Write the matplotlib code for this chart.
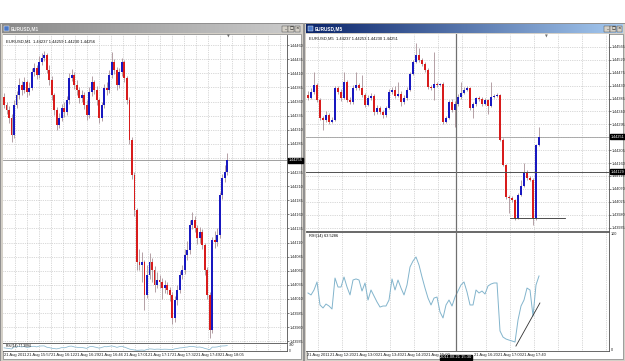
import numpy as np
import matplotlib
matplotlib.use("Agg")
import matplotlib.pyplot as plt
from matplotlib.patches import Rectangle
from matplotlib.colors import LinearSegmentedColormap
import matplotlib.transforms as mtransforms

# ------------------------------------------------------------------ data
# EURUSD M1 (left window), prices in points (1e-5)
left_open = [144368, 144354, 144345, 144331, 144300, 144354, 144371, 144389, 144380, 144394,
             144377, 144384, 144412, 144419, 144407, 144430, 144437, 144442, 144416, 144398,
             144371, 144345, 144318, 144331, 144348, 144341, 144362, 144401, 144407, 144389,
             144380, 144366, 144371, 144354, 144336, 144377, 144394, 144380, 144362, 144331,
             144354, 144384, 144380, 144407, 144430, 144416, 144389, 144412, 144430, 144401,
             144362, 144292, 144230, 144167, 144075, 144070, 144075, 144017, 144052, 144075,
             144061, 144034, 144043, 144040, 144029, 144034, 144026, 144017, 143976, 144008,
             144026, 144052, 144061, 144088, 144096, 144141, 144150, 144135, 144118, 144128,
             144105, 144061, 144017, 143955, 144114, 144111, 144123, 144194, 144224, 144235]
left_close = [144354, 144345, 144331, 144300, 144354, 144371, 144389, 144380, 144394, 144377,
              144384, 144412, 144419, 144407, 144430, 144437, 144442, 144416, 144398, 144371,
              144345, 144318, 144331, 144348, 144341, 144362, 144401, 144407, 144389, 144380,
              144366, 144371, 144354, 144336, 144377, 144394, 144380, 144362, 144331, 144354,
              144384, 144380, 144407, 144430, 144416, 144389, 144412, 144430, 144401, 144362,
              144292, 144230, 144167, 144075, 144070, 144075, 144017, 144052, 144075, 144061,
              144034, 144043, 144040, 144029, 144034, 144026, 144017, 143976, 144008, 144026,
              144052, 144061, 144088, 144096, 144141, 144150, 144135, 144118, 144128, 144105,
              144061, 144017, 143955, 144114, 144111, 144123, 144194, 144224, 144235, 144256]
left_high = [144376, 144360, 144352, 144338, 144362, 144378, 144401, 144396, 144404, 144399,
             144395, 144420, 144428, 144424, 144441, 144446, 144449, 144446, 144424, 144405,
             144376, 144350, 144340, 144356, 144360, 144370, 144410, 144418, 144412, 144398,
             144386, 144380, 144377, 144362, 144386, 144405, 144398, 144388, 144366, 144360,
             144392, 144395, 144416, 144447, 144436, 144422, 144420, 144438, 144434, 144406,
             144368, 144298, 144236, 144172, 144098, 144094, 144080, 144070, 144092, 144082,
             144068, 144058, 144052, 144048, 144044, 144040, 144032, 144022, 144016, 144034,
             144060, 144070, 144098, 144112, 144150, 144164, 144158, 144142, 144138, 144134,
             144110, 144066, 144022, 144120, 144130, 144135, 144200, 144232, 144248, 144268]
left_low = [144348, 144338, 144322, 144288, 144296, 144348, 144365, 144372, 144376, 144368,
            144372, 144380, 144406, 144400, 144402, 144425, 144432, 144410, 144390, 144362,
            144336, 144309, 144314, 144326, 144332, 144336, 144356, 144396, 144382, 144372,
            144358, 144360, 144346, 144328, 144330, 144370, 144374, 144354, 144322, 144326,
            144348, 144372, 144376, 144402, 144408, 144380, 144384, 144406, 144394, 144355,
            144285, 144222, 144158, 144062, 144062, 144040, 143990, 144012, 144046, 144040,
            144022, 144030, 144030, 144010, 144020, 144018, 144006, 143966, 143970, 144000,
            144020, 144046, 144055, 144080, 144090, 144134, 144128, 144108, 144110, 144098,
            144052, 144010, 143940, 143950, 144100, 144104, 144118, 144188, 144218, 144230]
left_rsi = [45, 40, 36, 28, 55, 60, 65, 58, 63, 52, 55, 66, 68, 58, 70, 72, 73, 55, 48, 40,
            34, 30, 38, 48, 45, 55, 68, 70, 58, 54, 48, 50, 44, 38, 60, 66, 58, 50, 40, 52,
            62, 60, 68, 72, 64, 52, 62, 68, 55, 42, 28, 20, 15, 10, 12, 14, 10, 22, 30, 28,
            24, 27, 26, 24, 26, 25, 23, 18, 30, 36, 44, 46, 54, 56, 64, 66, 60, 54, 57, 50,
            38, 28, 18, 56, 55, 58, 68, 72, 73, 77]
left_price_ticks = [1.44460, 1.44435, 1.44410, 1.44385, 1.44360, 1.44335, 1.44310, 1.44285,
                    1.44260, 1.44235, 1.44210, 1.44185, 1.44160, 1.44135, 1.44110, 1.44085,
                    1.44060, 1.44035, 1.44010, 1.43985, 1.43960, 1.43935]
left_time_labels = ["21 Aug 2011", "21 Aug 15:57", "21 Aug 16:12", "21 Aug 16:29", "21 Aug 16:46",
                    "21 Aug 17:01", "21 Aug 17:17", "21 Aug 17:32", "21 Aug 17:49", "21 Aug 18:05"]
left_bid = 1.44256

# EURUSD M5 (right window), prices in points (1e-5)
right_open = [144398, 144387, 144408, 144432, 144380, 144317, 144310, 144328, 144303, 144310,
              144422, 144408, 144387, 144443, 144380, 144373, 144422, 144432, 144422, 144398,
              144363, 144387, 144394, 144338, 144352, 144338, 144328, 144352, 144408, 144415,
              144394, 144401, 144373, 144387, 144415, 144471, 144513, 144537, 144520, 144506,
              144485, 144425, 144422, 144436, 144432, 144436, 144303, 144317, 144373, 144345,
              144366, 144391, 144405, 144415, 144422, 144352, 144366, 144387, 144384, 144366,
              144380, 144359, 144391, 144394, 144398, 144241, 144153, 144042, 144038, 144031,
              143969, 144049, 144080, 144129, 144108, 144101, 143969, 144223]
right_close = [144387, 144408, 144432, 144380, 144317, 144310, 144328, 144303, 144310, 144422,
               144408, 144387, 144443, 144380, 144373, 144422, 144432, 144422, 144398, 144363,
               144387, 144394, 144338, 144352, 144338, 144328, 144352, 144408, 144415, 144394,
               144401, 144373, 144387, 144415, 144471, 144513, 144537, 144520, 144506, 144485,
               144425, 144422, 144436, 144432, 144436, 144303, 144317, 144373, 144345, 144366,
               144391, 144405, 144415, 144422, 144352, 144366, 144387, 144384, 144366, 144380,
               144359, 144391, 144394, 144398, 144241, 144153, 144042, 144038, 144031, 143969,
               144049, 144080, 144129, 144108, 144101, 143969, 144223, 144251]
right_high = [144410, 144420, 144477, 144440, 144388, 144325, 144340, 144334, 144320, 144430,
              144428, 144418, 144478, 144450, 144392, 144432, 144478, 144438, 144467, 144404,
              144396, 144405, 144400, 144362, 144358, 144345, 144360, 144418, 144425, 144430,
              144443, 144410, 144396, 144424, 144478, 144520, 144579, 144562, 144528, 144512,
              144490, 144432, 144548, 144442, 144440, 144442, 144325, 144380, 144384, 144375,
              144400, 144443, 144424, 144430, 144426, 144374, 144392, 144395, 144390, 144388,
              144384, 144443, 144400, 144404, 144402, 144246, 144158, 144048, 144045, 144036,
              144055, 144101, 144160, 144135, 144115, 144108, 144228, 144286]
right_low = [144380, 144382, 144402, 144372, 144310, 144275, 144304, 144296, 144298, 144305,
             144400, 144378, 144382, 144372, 144365, 144366, 144415, 144414, 144390, 144355,
             144358, 144380, 144328, 144332, 144330, 144318, 144322, 144348, 144400, 144388,
             144390, 144359, 144366, 144380, 144410, 144466, 144508, 144514, 144500, 144478,
             144418, 144415, 144380, 144426, 144428, 144296, 144298, 144312, 144338, 144285,
             144360, 144385, 144400, 144410, 144345, 144317, 144360, 144378, 144360, 144362,
             144331, 144355, 144386, 144390, 144236, 144148, 144036, 143986, 144024, 143962,
             143964, 144044, 144076, 144102, 144096, 143944, 143962, 144218]
right_rsi = [48.7, 47.0, 51.3, 58.3, 38.3, 35.7, 39.1, 37.4, 34.8, 61.7,
             53.9, 53.9, 62.6, 53.9, 47.0, 60.0, 60.9, 60.0, 50.4, 57.4,
             42.6, 51.3, 46.1, 40.9, 36.5, 37.4, 37.4, 42.6, 60.9, 51.3,
             60.0, 53.0, 47.0, 55.7, 71.3, 76.5, 80.0, 73.0, 62.6, 53.0,
             44.3, 38.3, 44.3, 45.2, 32.2, 27.0, 38.3, 42.6, 37.4, 45.2,
             50.4, 55.7, 58.3, 49.6, 38.3, 38.3, 51.3, 48.7, 50.4, 47.8,
             54.8, 56.5, 57.4, 57.4, 15.7, 10.4, 8.7, 7.8, 7.0, 6.1,
             25.2, 37.4, 42.6, 53.0, 51.3, 28.7, 55.7, 63.5]
right_price_ticks = [1.44565, 1.44520, 1.44475, 1.44430, 1.44385, 1.44340, 1.44295, 1.44250,
                     1.44205, 1.44160, 1.44115, 1.44070, 1.44025, 1.43980, 1.43935]
right_time_labels = ["21 Aug 2011", "21 Aug 12:20", "21 Aug 13:00", "21 Aug 13:40", "21 Aug 14:20",
                     "21 Aug 15:00", "", "21 Aug 16:20", "21 Aug 17:00", "21 Aug 17:40"]
right_bid = 1.44251
cross_bar, cross_price, cross_time = 49.3, 1.44129, "2011.08.21 15:30"
price_trend_x, price_trend_y = [67.3, 85.7], [1.43969, 1.43969]
rsi_trend_x, rsi_trend_y = [69.3, 77.3], [2.6, 40.0]

# ------------------------------------------------------------------ figure
W, H = 625, 361
fig = plt.figure(figsize=(W / 100, H / 100), dpi=100)
fig.patch.set_facecolor("white")
plt.rcParams["font.family"] = ["Liberation Sans Narrow", "Liberation Sans", "DejaVu Sans"]


def rect(x0, y0, x1, y1):
    return [x0 / W, 1 - y1 / H, (x1 - x0) / W, (y1 - y0) / H]


UP, DN, WICK = "#1818c0", "#d81c1c", "#a89096"
GRID = dict(color="#b4b4b4", lw=0.5, ls=(0, (1, 1.6)))
FS = 2.7

# background chrome
bg = fig.add_axes([0, 0, 1, 1], zorder=0)
bg.set_xlim(0, W); bg.set_ylim(H, 0); bg.axis("off")


def gradient(x0, x1, y0, y1, c0, c1):
    cmap = LinearSegmentedColormap.from_list("g", [c0, c1])
    bg.imshow(np.linspace(0, 1, 256).reshape(1, -1), extent=(x0, x1, y1, y0),
              cmap=cmap, aspect="auto", zorder=2)


def window(x0, x1, title, active):
    bg.add_patch(Rectangle((x0, 23), x1 - x0, H - 23, fc="#d4d0c8", ec="#808080", lw=0.6, zorder=1))
    if active:
        gradient(x0 + 2, x1 - 2, 24.5, 33, "#0a246a", "#a6caf0")
        tc = "white"
    else:
        gradient(x0 + 2, x1 - 2, 24.5, 33, "#8a8a8a", "#cccccc")
        tc = "#eeeeee"
    bg.add_patch(Rectangle((x0 + 3.5, 26), 5, 5, fc="#4a78c8", ec="white", lw=0.3, zorder=3))
    bg.text(x0 + 11, 29, title, fontsize=3.4, color=tc, fontweight="bold", va="center", zorder=3)
    for k, g in enumerate(["_", "□", "×"]):
        bx = x1 - 21 + k * 6.3
        bg.add_patch(Rectangle((bx, 25.5), 5.6, 6, fc="#d4d0c8", ec="#404040", lw=0.3, zorder=3))
        bg.text(bx + 2.8, 28.6, g, fontsize=3.0, ha="center", va="center", zorder=4,
                family=["DejaVu Sans"])
    bg.add_patch(Rectangle((x0 + 2.5, 33.5), x1 - x0 - 5, H - 36, fc="white", ec="#808080", lw=0.5, zorder=2))


window(0, 303, "EURUSD,M1", False)
window(304, 625, "EURUSD,M5", True)
bg.set_xlim(0, W); bg.set_ylim(H, 0)


def candles(ax, o, h, l, c, width):
    o, h, l, c = (np.asarray(a) / 1e5 for a in (o, h, l, c))
    x = np.arange(len(c))
    ax.vlines(x, l, h, color=WICK, lw=0.6, zorder=3)
    up = c >= o
    bot = np.minimum(o, c)
    hgt = np.maximum(np.abs(c - o), 0.000015)
    ax.bar(x[up], hgt[up], width, bot[up], color=UP, lw=0, zorder=4)
    ax.bar(x[~up], hgt[~up], width, bot[~up], color=DN, lw=0, zorder=4)


def style(ax):
    ax.set_facecolor("white")
    for s in ax.spines.values():
        s.set_color("#505050"); s.set_linewidth(0.6)
    ax.spines["left"].set_visible(False)
    ax.spines["top"].set_visible(False)
    ax.tick_params(axis="x", length=0, labelsize=FS + 0.3, pad=1.2, colors="#202020")
    ax.yaxis.tick_right()
    ax.tick_params(axis="y", length=1.2, width=0.4, labelsize=FS, pad=0.7, colors="#202020")


def price_box(ax, y, txt):
    tr = mtransforms.blended_transform_factory(ax.transAxes, ax.transData)
    ax.text(1.006, y, txt, transform=tr, fontsize=FS, color="white", va="center", ha="left",
            bbox=dict(boxstyle="square,pad=0.12", fc="black", ec="black"), zorder=10, clip_on=False)


def tick_text(ticks, skip):
    return ["" if abs(v - skip) < 0.0001 else "%.5f" % v for v in ticks]


# ---------------- left window
axL = fig.add_axes(rect(3, 35, 287, 343), zorder=2)
style(axL)
axL.set_xlim(-0.4, 112.8); axL.set_ylim(1.43932, 1.44478)
axL.set_yticks(left_price_ticks)
axL.set_yticklabels(tick_text(left_price_ticks, left_bid))
axL.set_xticks([])
for k in range(23):
    axL.axvline(4.4 + 4.8 * k, **GRID, zorder=1)
for v in left_price_ticks:
    axL.axhline(v, **GRID, zorder=1)
candles(axL, left_open, left_high, left_low, left_close, 0.75)
axL.axhline(left_bid, color="#909090", lw=0.6, zorder=2)
price_box(axL, left_bid, "%.5f" % left_bid)
axL.text(0.012, 0.985, "EURUSD,M1  1.44237 1.44259 1.44230 1.44256", transform=axL.transAxes,
         fontsize=3.0, va="top", color="#101010")
axL.text(89.5, 1.44478, "▼", fontsize=2.6, color="#707070", ha="center", va="top",
         clip_on=False, family=["DejaVu Sans"])

axLi = fig.add_axes(rect(3, 344, 287, 351), zorder=2)
style(axLi)
axLi.set_xlim(-0.4, 112.8); axLi.set_ylim(0, 100)
axLi.plot(np.arange(len(left_rsi)), left_rsi, color="#7fb2cc", lw=0.5)
axLi.set_yticks([0, 100]); axLi.set_yticklabels(["0", "100"], fontsize=2.3)
axLi.tick_params(axis="y", length=0, pad=1)
axLi.set_xticks([4.4 + 9.6 * k for k in range(len(left_time_labels))])
axLi.set_xticklabels(left_time_labels)
axLi.tick_params(axis="x", pad=1.6)
for k in range(23):
    axLi.axvline(4.4 + 4.8 * k, **GRID, zorder=1)
axLi.text(0.012, 0.95, "RSI(14) 77.3094", transform=axLi.transAxes, fontsize=2.4, va="top")

# ---------------- right window
axR = fig.add_axes(rect(306, 34, 609, 231), zorder=2)
style(axR)
axR.set_xlim(-0.67, 100.33); axR.set_ylim(1.43923, 1.44610)
axR.set_yticks(right_price_ticks)
axR.set_yticklabels(tick_text(right_price_ticks, right_bid))
axR.set_xticks([])
for k in range(13):
    axR.axvline(3.3 + 8 * k, **GRID, zorder=1)
for v in right_price_ticks:
    axR.axhline(v, **GRID, zorder=1)
candles(axR, right_open, right_high, right_low, right_close, 0.7)
axR.axhline(right_bid, color="#a0a0a0", lw=0.6, zorder=2)
axR.axhline(cross_price, color="#505050", lw=0.7, zorder=5)
axR.axvline(cross_bar, color="#707070", lw=0.9, zorder=5)
axR.plot(price_trend_x, price_trend_y, color="#303030", lw=0.6, zorder=6)
price_box(axR, right_bid, "%.5f" % right_bid)
price_box(axR, cross_price, "%.5f" % cross_price)
axR.text(0.01, 0.985, "EURUSD,M5  1.44237 1.44253 1.44230 1.44251", transform=axR.transAxes,
         fontsize=3.0, va="top", color="#101010")
axR.text(79.5, 1.44610, "▼", fontsize=2.6, color="#707070", ha="center", va="top",
         clip_on=False, family=["DejaVu Sans"])

axRi = fig.add_axes(rect(306, 232, 609, 351), zorder=2)
style(axRi)
axRi.spines["top"].set_visible(True)
axRi.set_xlim(-0.67, 100.33); axRi.set_ylim(-1.7, 101.7)
axRi.plot(np.arange(len(right_rsi)), right_rsi, color="#82b4cc", lw=0.7, zorder=3)
axRi.plot(rsi_trend_x, rsi_trend_y, color="#303030", lw=0.6, zorder=4)
axRi.axvline(cross_bar, color="#707070", lw=0.9, zorder=5)
axRi.set_yticks([0, 100]); axRi.set_yticklabels(["0", "100"])
axRi.tick_params(axis="y", length=0, pad=1)
axRi.set_xticks([3.3 + 8 * k for k in range(len(right_time_labels))])
axRi.set_xticklabels(right_time_labels)
axRi.tick_params(axis="x", pad=1.6)
for k in range(13):
    axRi.axvline(3.3 + 8 * k, **GRID, zorder=1)
axRi.text(0.01, 0.985, "RSI(14) 63.5286", transform=axRi.transAxes, fontsize=2.8, va="top")
trx = mtransforms.blended_transform_factory(axRi.transData, axRi.transAxes)
axRi.text(cross_bar, -0.035, cross_time, transform=trx, fontsize=FS + 0.3, color="white",
          ha="center", va="top", clip_on=False, zorder=10,
          bbox=dict(boxstyle="square,pad=0.12", fc="black", ec="black"))

fig.savefig("out.png", dpi=100, facecolor="white")
